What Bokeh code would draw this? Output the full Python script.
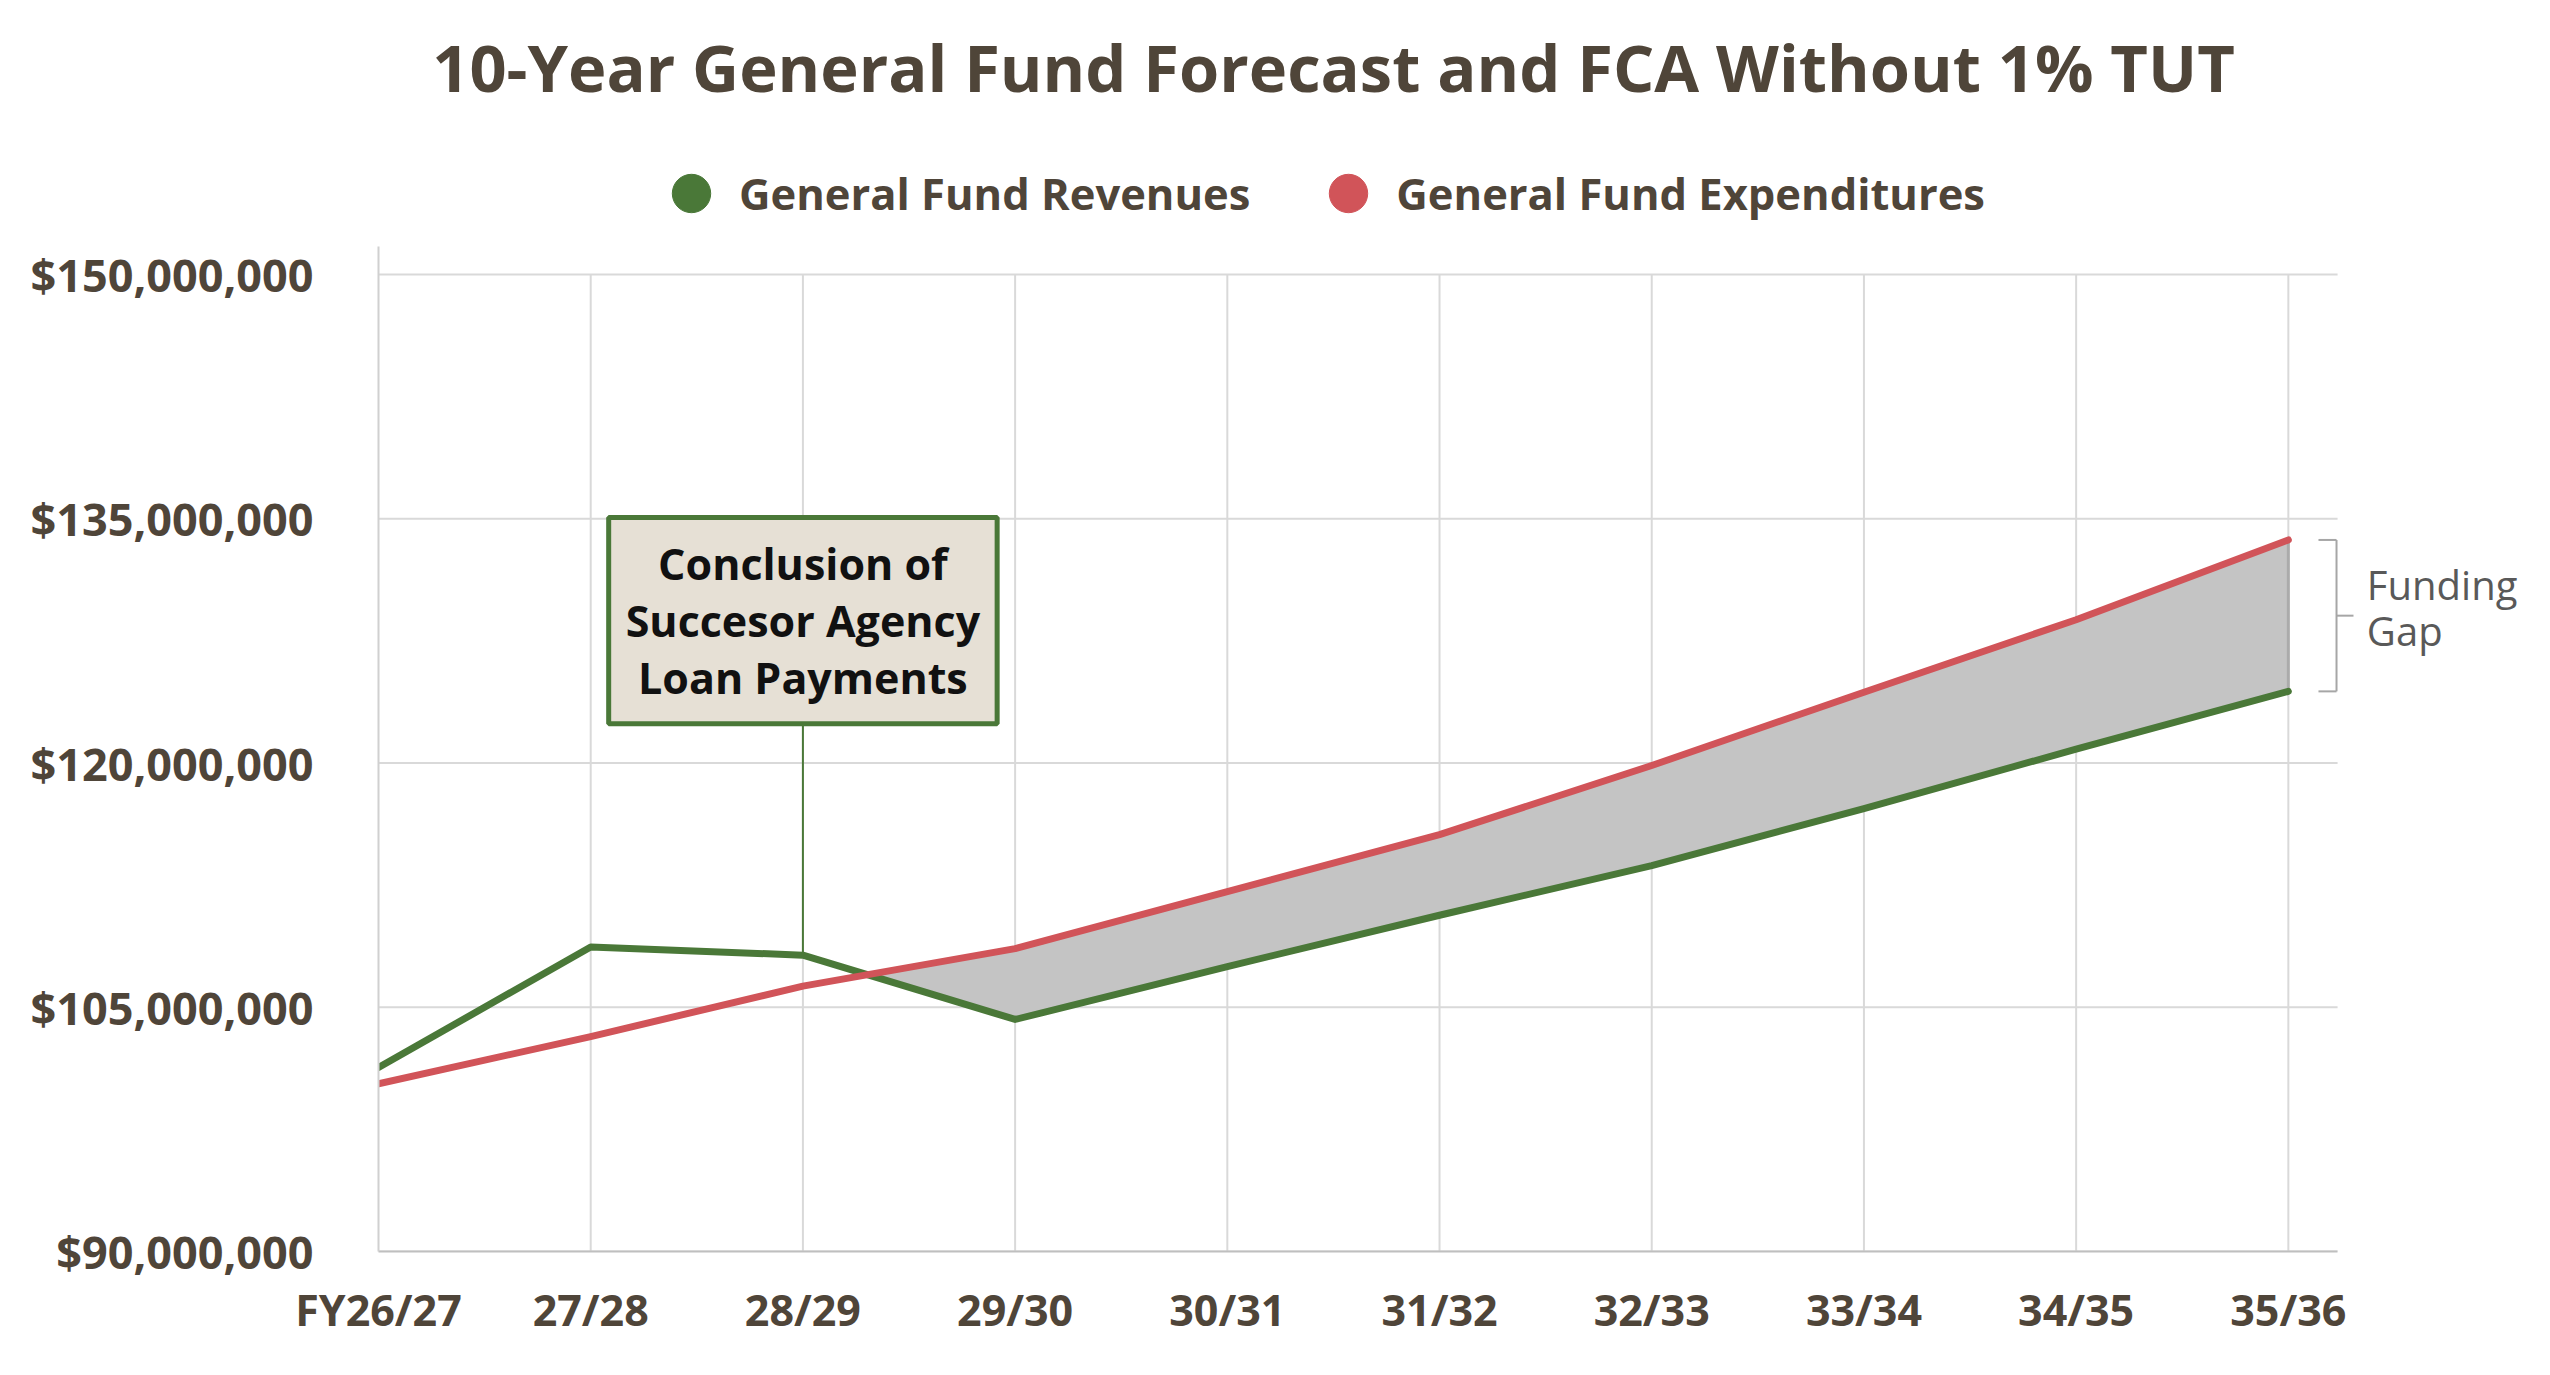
import numpy as np
from bokeh.plotting import figure
from bokeh.models import (ColumnDataSource, FixedTicker, NumeralTickFormatter, Label,
                          Legend, LegendItem, Arrow, Range1d)
from bokeh.embed import file_html
from bokeh.resources import INLINE

# data (dollars)
years = ["FY26/27", "27/28", "28/29", "29/30", "30/31", "31/32", "32/33", "33/34", "34/35", "35/36"]
revenues = [101.3e6, 108.7e6, 108.2e6, 104.25e6, 107.5e6, 110.65e6, 113.7e6, 117.2e6, 120.85e6, 124.4e6]
expenditures = [100.3e6, 103.2e6, 106.3e6, 108.6e6, 112.1e6, 115.6e6, 119.85e6, 124.35e6, 128.8e6, 133.7e6]
y_ticks = [90e6, 105e6, 120e6, 135e6, 150e6]

TEXT = "#4F4539"
GREEN = "#4A7838"
RED = "#D15459"
GRID = "#D9D9D9"
FONT = "Open Sans"

x = np.arange(len(years))
rev = np.array(revenues)
exp = np.array(expenditures)

# plot area of the chart proper; the frame itself runs to the top and right edges
X_RIGHT = 9.232
Y_TOP = 151.72e6

p = figure(width=2534, height=1359, output_backend="svg", toolbar_location=None, title=None,
           x_range=Range1d(0, 10.16), y_range=Range1d(90e6, 166.83e6),
           min_border_left=378, min_border_right=0, min_border_top=0, min_border_bottom=108)
p.outline_line_color = None
p.grid.visible = False

# axes
p.yaxis.ticker = FixedTicker(ticks=y_ticks)
p.yaxis.formatter = NumeralTickFormatter(format="$0,0")
p.xaxis.ticker = FixedTicker(ticks=list(range(len(years))))
p.xaxis.major_label_overrides = {i: lab for i, lab in enumerate(years)}
for ax in (p.xaxis[0], p.yaxis[0]):
    ax.major_label_text_font = FONT
    ax.major_label_text_font_style = "bold"
    ax.major_label_text_color = TEXT
    ax.major_tick_line_color = None
    ax.minor_tick_line_color = None
    ax.major_tick_out = 0
    ax.major_tick_in = 0
    ax.axis_line_width = 2
p.yaxis.major_label_text_font_size = "45px"
p.xaxis.major_label_text_font_size = "43px"
p.yaxis.axis_line_color = "#D0D0D0"
p.xaxis.axis_line_color = "#BFBFBF"
p.yaxis.bounds = (90e6, Y_TOP)
p.xaxis.bounds = (0, X_RIGHT)
p.yaxis.major_label_standoff = 65
p.xaxis.major_label_standoff = 28

# grid lines limited to the chart area
p.segment(x0=0, y0=y_ticks, x1=X_RIGHT, y1=y_ticks, line_color=GRID, line_width=2)
p.segment(x0=x[1:], y0=90e6, x1=x[1:], y1=150e6, line_color=GRID, line_width=2)

# funding gap shading, starting where the two lines cross
d = rev - exp
i = int(np.where((d[:-1] > 0) & (d[1:] < 0))[0][0])
t = d[i] / (d[i] - d[i + 1])
xc = i + t
yc = rev[i] + t * (rev[i + 1] - rev[i])
gap_x = [xc] + list(x[i + 1:]) + list(x[i + 1:][::-1])
gap_y = [yc] + list(exp[i + 1:]) + list(rev[i + 1:][::-1])
p.patch(gap_x, gap_y, fill_color="#C4C4C4", line_color="#ABABAB", line_width=3)

# annotation box with leader line
annot_y = 128.75e6
annot_bottom = 122.3e6
p.segment(x0=[2], y0=[rev[2]], x1=[2], y1=[annot_bottom], line_color=GREEN, line_width=2)

src = ColumnDataSource(dict(x=x, rev=rev, exp=exp))
p.line("x", "rev", source=src, line_color=GREEN, line_width=7, line_cap="round", line_join="round")
p.line("x", "exp", source=src, line_color=RED, line_width=7, line_cap="round", line_join="round")

# legend dots
rev_dot = p.scatter("x", "rev", source=src, size=0, fill_color=GREEN, line_color=GREEN)
exp_dot = p.scatter("x", "exp", source=src, size=0, fill_color=RED, line_color=RED)
legend = Legend(items=[LegendItem(label="General Fund Revenues", renderers=[rev_dot]),
                       LegendItem(label="General Fund Expenditures", renderers=[exp_dot])],
                orientation="horizontal", location=(265, 1004),
                glyph_width=96, glyph_height=108, label_standoff=0, spacing=50,
                padding=0, margin=0, border_line_color=None, background_fill_alpha=0,
                label_text_font=FONT, label_text_font_style="bold",
                label_text_font_size="43.5px", label_text_color=TEXT)
p.add_layout(legend)

box = Label(x=2, y=annot_y, text="Conclusion of\nSuccesor Agency\nLoan Payments",
            text_align="center", text_baseline="middle", text_font=FONT,
            text_font_style="bold", text_font_size="43px", text_color="#111111",
            text_line_height=0.96, padding=17,
            background_fill_color="#E6E0D5", border_line_color=GREEN, border_line_width=5)
p.add_layout(box)

title = Label(x=955, y=1185, x_units="screen", y_units="screen",
              text="10-Year General Fund Forecast and FCA Without 1% TUT",
              text_align="center", text_baseline="middle", text_font=FONT,
              text_font_style="bold", text_font_size="65px", text_color=TEXT)
p.add_layout(title)

# funding gap bracket and text
BR = "#A6A6A6"
mid = (rev[-1] + exp[-1]) / 2
for xs, ys, xe, ye in [(9.142, exp[-1], 9.227, exp[-1]), (9.227, exp[-1], 9.227, rev[-1]),
                       (9.142, rev[-1], 9.227, rev[-1]), (9.227, mid, 9.307, mid)]:
    p.add_layout(Arrow(end=None, x_start=xs, y_start=ys, x_end=xe, y_end=ye,
                       line_color=BR, line_width=2))
gap_label = Label(x=9.37, y=mid + 0.5e6, text="Funding\nGap", text_align="left",
                  text_baseline="middle", text_font=FONT, text_font_size="40px",
                  text_color="#595959", text_line_height=0.85)
p.add_layout(gap_label)

open("out.html", "w").write(file_html(p, INLINE))
